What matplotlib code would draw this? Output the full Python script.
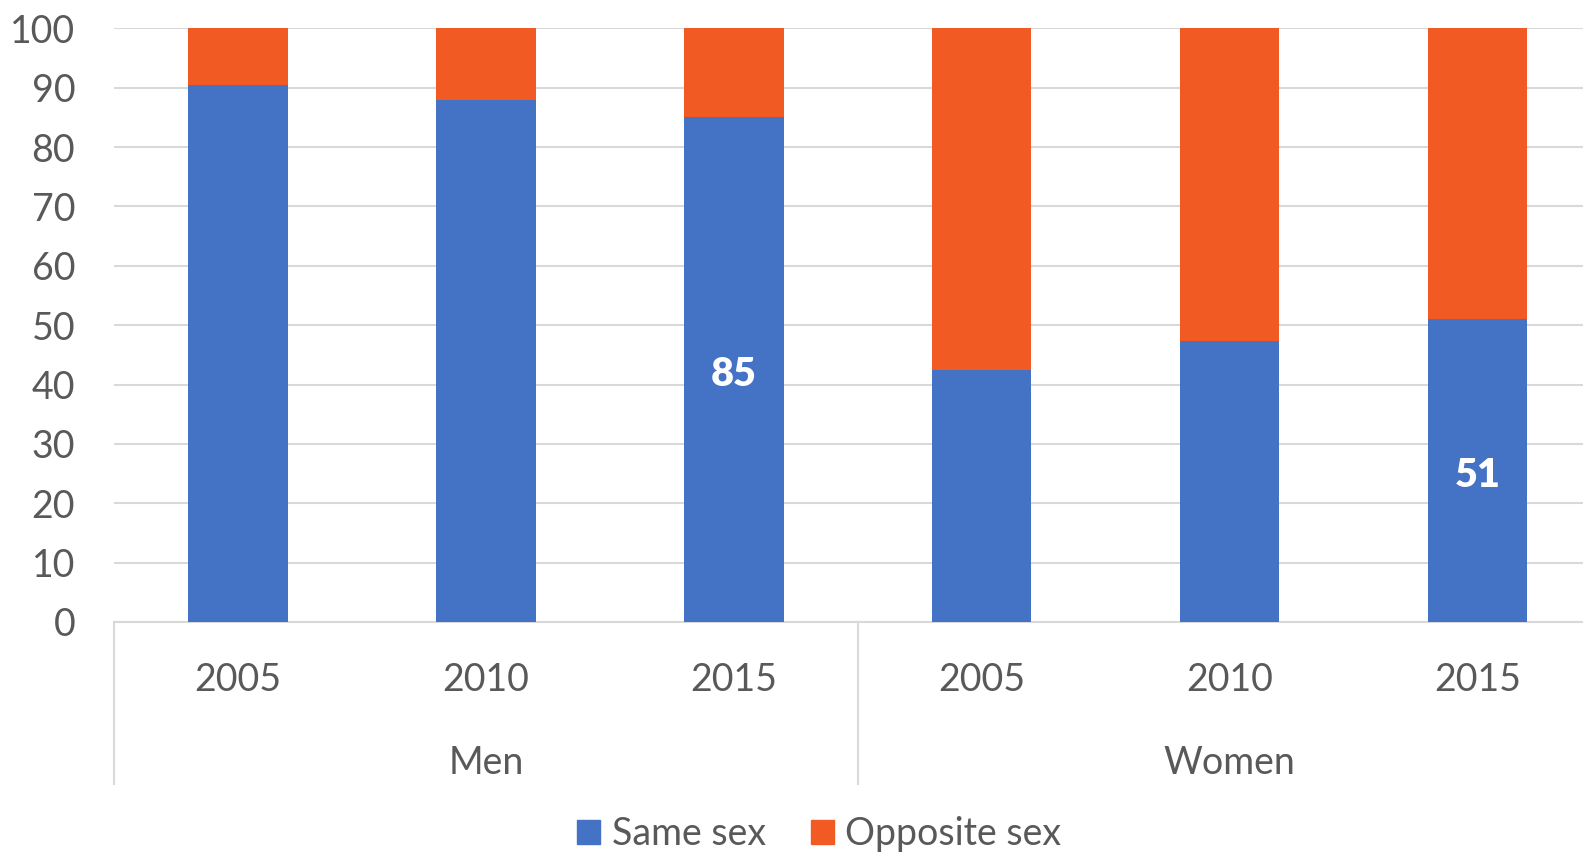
import matplotlib
matplotlib.use("Agg")
import matplotlib.pyplot as plt
from matplotlib.patches import Patch
from matplotlib.lines import Line2D
from matplotlib.transforms import offset_copy

years = ["2005", "2010", "2015", "2005", "2010", "2015"]
groups = ["Men", "Women"]
same_sex = [90.5, 88.0, 85.0, 42.4, 47.3, 51.0]
opposite_sex = [100 - v for v in same_sex]
labels_shown = {2: "85", 5: "51"}

BLUE = "#4472C4"
ORANGE = "#F25A24"
TXT = "#595959"
GRID = "#D9D9D9"

plt.rcParams['font.family'] = ['Lato', 'DejaVu Sans']
FS = 27

W, H = 1583, 852
fig = plt.figure(figsize=(W / 100, H / 100), dpi=100)
left_px, right_px = 114.1, 1601.7
y0_px, y100_px = 622.0, 28.3
ax = fig.add_axes([left_px / W, (H - y0_px) / H, (right_px - left_px) / W, (y0_px - y100_px) / H])

x = list(range(len(years)))
ax.bar(x, same_sex, width=0.4, color=BLUE, zorder=3, label="Same sex")
ax.bar(x, opposite_sex, width=0.4, bottom=same_sex, color=ORANGE, zorder=3, label="Opposite sex")

lab_trans = offset_copy(ax.transData, fig=fig, x=0, y=-5, units="dots")
for i, txt in labels_shown.items():
    ax.text(i, same_sex[i] / 2, txt, ha="center", va="center", color="white",
            fontsize=28.5, fontweight="heavy", zorder=4, transform=lab_trans)

ax.set_xlim(-0.5, 5.5)
ax.set_ylim(0, 100)
ax.set_yticks(range(0, 101, 10))
ax.yaxis.grid(True, color=GRID, linewidth=1.5, zorder=0)
ax.tick_params(axis="y", length=0, pad=28, labelsize=FS, labelcolor=TXT)
ax.set_xticks([])
for s in ["top", "right", "left"]:
    ax.spines[s].set_visible(False)
ax.spines["bottom"].set_color(GRID)
ax.spines["bottom"].set_linewidth(1.5)

trans = ax.get_xaxis_transform()
axh = y0_px - y100_px
def yfrac(px):
    return (y0_px - px) / axh

for i, yr in enumerate(years):
    ax.text(i, yfrac(680), yr, transform=trans, ha="center", va="center",
            fontsize=FS, color=TXT)
for g, gx in zip(groups, [1, 4]):
    ax.text(gx, yfrac(763), g, transform=trans, ha="center", va="center",
            fontsize=FS, color=TXT)
for sx in [-0.5, 2.5, 5.5]:
    ax.add_line(Line2D([sx, sx], [0, yfrac(784)], transform=trans, color=GRID,
                       linewidth=1.5, clip_on=False))

handles = [Patch(color=BLUE), Patch(color=ORANGE)]
fig.legend(handles, ["Same sex", "Opposite sex"], loc="center",
           bbox_to_anchor=(819 / W, (H - 834) / H), ncol=2, frameon=False,
           fontsize=FS, labelcolor=TXT, handlelength=0.62, handleheight=0.62,
           handletextpad=0.3, columnspacing=1.2)

fig.savefig("out.png", dpi=100)
